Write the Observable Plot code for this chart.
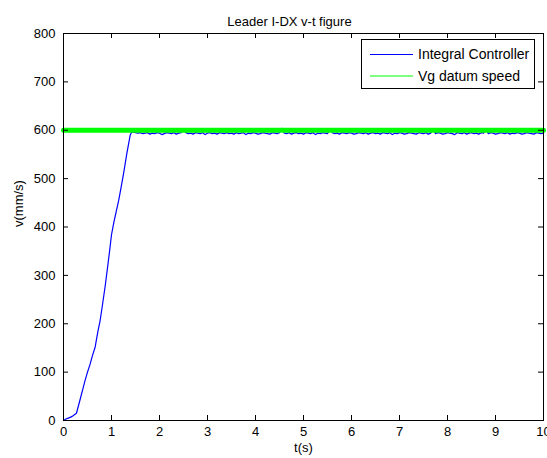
<!DOCTYPE html>
<html>
<head>
<meta charset="utf-8">
<script src="https://cdn.jsdelivr.net/npm/d3@7"></script>
<script src="https://cdn.jsdelivr.net/npm/@observablehq/plot@0.6"></script>
<style>
  html, body { margin: 0; padding: 0; background: #fff; }
  #chart { position: relative; width: 547px; height: 458px; overflow: hidden; }
</style>
</head>
<body>
<div id="chart"></div>
<script>
// ---- Data ----
const titleText = "Leader I-DX v-t figure";
const xLabel = "t(s)";
const yLabel = "v(mm/s)";
const xTicks = [0, 1, 2, 3, 4, 5, 6, 7, 8, 9, 10];
const yTicks = [0, 100, 200, 300, 400, 500, 600, 700, 800];
const seriesNames = ["Integral Controller", "Vg datum speed"];
const seriesColors = ["#0000ff", "#00ff00"];

// Rising phase of the integral controller response (t in s, v in mm/s)
const riseT = [0, 0.05, 0.1, 0.15, 0.2, 0.24, 0.27, 0.31, 0.35, 0.4, 0.45, 0.5, 0.556, 0.6, 0.66, 0.715, 0.76, 0.8, 0.87, 0.92, 0.96, 1.0, 1.05, 1.1, 1.15, 1.2, 1.25, 1.32, 1.39, 1.42];
const riseV = [0, 3, 5, 7, 10, 13, 15, 30, 45, 64, 83, 100, 117, 133, 152, 183, 205, 231, 279, 318, 350, 384, 410, 433, 455, 482, 510, 552, 590, 596];

// Steady phase, sampled every 0.05 s from t = 1.45 to t = 10.0
const steadyStart = 1.45;
const steadyStep = 0.05;
const steadyV = [
  596,595,594,595,593,594,595,592,594,593,595,594,591,593,595,594,593,595,592,594,
  595,603,595,593,594,592,595,594,593,595,591,594,595,593,594,592,595,594,593,595,
  593,594,592,595,593,594,595,591,594,593,595,594,592,593,595,594,593,592,595,594,
  593,595,604,594,593,595,592,594,595,593,594,592,595,594,593,595,591,594,593,595,
  594,593,603,595,593,594,592,595,594,593,595,594,592,593,595,594,593,595,592,594,
  595,593,594,592,595,594,593,595,591,594,593,595,594,592,593,595,594,593,592,595,
  594,593,595,592,594,603,593,595,594,592,593,595,594,593,591,595,594,593,595,592,
  594,595,593,594,592,595,594,603,593,595,594,592,593,595,594,593,595,592,594,593,
  595,594,592,593,595,594,593,592,595,594,593,594
];

// Datum speed
const datumT = [0, 10];
const datumV = [600, 600];

// ---- Build tables ----
const controller = riseT.map((t, i) => ({t, v: riseV[i]}))
  .concat(steadyV.map((v, i) => ({t: +(steadyStart + i * steadyStep).toFixed(2), v})));
const datum = datumT.map((t, i) => ({t, v: datumV[i]}));

// ---- Layout ----
const W = 547, H = 458;
const mL = 63, mR = 4, mT = 33, mB = 38;
const FONT = "'Liberation Sans', Arial, Helvetica, sans-serif";
const tickPx = 5;
const plotH = H - mT - mB, plotW = W - mL - mR;
const yTickLen = 800 * tickPx / plotH;
const xTickLen = 10 * tickPx / plotW;

const chart = Plot.plot({
  width: W,
  height: H,
  marginLeft: mL,
  marginRight: mR,
  marginTop: mT,
  marginBottom: mB,
  style: {fontFamily: FONT, fontSize: "13px", background: "#fff", color: "#000"},
  x: {domain: [0, 10]},
  y: {domain: [0, 800]},
  marks: [
    Plot.line(controller, {x: "t", y: "v", stroke: seriesColors[0], strokeWidth: 1.2}),
    Plot.line(datum, {x: "t", y: "v", stroke: seriesColors[1], strokeWidth: 5}),
    // inward ticks on all four sides (MATLAB box style)
    Plot.ruleX(xTicks, {x: d => d, y1: 0, y2: yTickLen, stroke: "#000", strokeWidth: 1}),
    Plot.ruleX(xTicks, {x: d => d, y1: 800, y2: 800 - yTickLen, stroke: "#000", strokeWidth: 1}),
    Plot.ruleY(yTicks, {y: d => d, x1: 0, x2: xTickLen, stroke: "#000", strokeWidth: 1}),
    Plot.ruleY(yTicks, {y: d => d, x1: 10, x2: 10 - xTickLen, stroke: "#000", strokeWidth: 1}),
    Plot.frame({stroke: "#000", strokeWidth: 1}),
    Plot.axisX(xTicks, {tickSize: 0, tickPadding: 6, label: null, fontSize: 13}),
    Plot.axisY(yTicks, {tickSize: 0, tickPadding: 8, label: null, fontSize: 13}),
    Plot.text([xLabel], {text: d => d, frameAnchor: "bottom", dy: 31, fontSize: 13}),
    Plot.text([yLabel], {text: d => d, frameAnchor: "left", rotate: -90, dx: -45, fontSize: 13}),
    Plot.text([titleText], {text: d => d, frameAnchor: "top", lineAnchor: "bottom", dy: -8, dx: -14, fontSize: 13})
  ]
});

// ---- Legend (drawn into the same SVG) ----
const svg = d3.select(chart);
const lg = svg.append("g").attr("font-family", FONT).attr("font-size", 14).attr("text-anchor", "start");
lg.append("rect").attr("x", 361.5).attr("y", 39.5).attr("width", 173).attr("height", 49)
  .attr("fill", "#fff").attr("stroke", "#000").attr("stroke-width", 1);
const rowsY = [54.5, 76];
seriesNames.forEach((name, i) => {
  lg.append("line").attr("x1", 370).attr("x2", 413).attr("y1", rowsY[i]).attr("y2", rowsY[i])
    .attr("stroke", seriesColors[i]).attr("stroke-width", 1);
  lg.append("text").attr("x", 418).attr("y", rowsY[i]).attr("dy", "0.35em")
    .attr("text-anchor", "start").attr("fill", "#000").text(name);
});

document.getElementById("chart").appendChild(chart);
</script>
</body>
</html>
